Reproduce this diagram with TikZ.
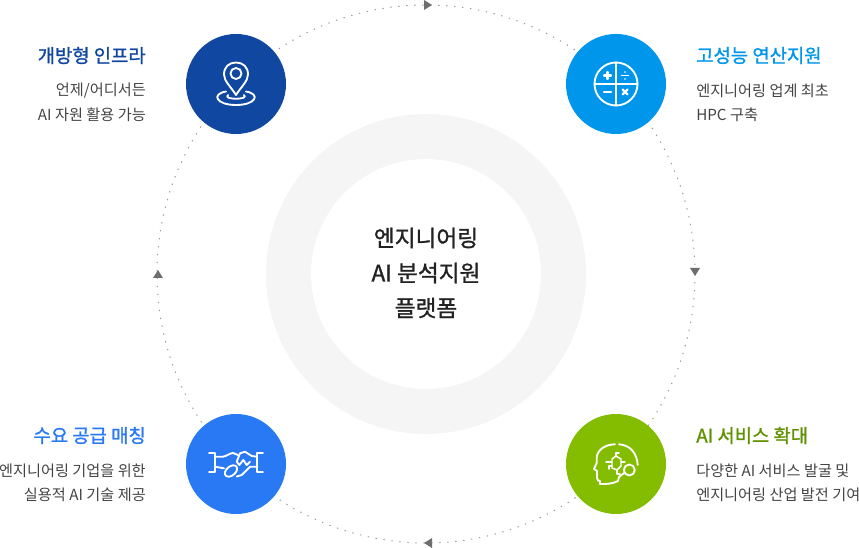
\documentclass[tikz,border=0pt]{standalone}
\usepackage{fontspec}
\setmainfont{Noto Sans CJK KR}
\newfontfamily\medkr[FakeBold=1.2]{Noto Sans CJK KR}
\begin{document}
\begin{tikzpicture}[x=0.75pt,y=-0.75pt,
  hub/.style={circle,minimum size=75pt,inner sep=0pt,draw=none},
  headl/.style={font=\fontsize{14.1pt}{16pt}\medkr,anchor=east,inner sep=0pt},
  headr/.style={font=\fontsize{14.1pt}{16pt}\medkr,anchor=west,inner sep=0pt},
  bodyl/.style={font=\fontsize{11.4pt}{13pt}\selectfont,text=bodygrey,anchor=east,inner sep=0pt},
  bodyr/.style={font=\fontsize{11.4pt}{13pt}\selectfont,text=bodygrey,anchor=west,inner sep=0pt},
  centre/.style={font=\fontsize{17pt}{20pt}\medkr,text=centregrey,inner sep=0pt},
  icon/.style={draw=white,line width=1.4pt,line cap=round,line join=round},
  tick/.style={fill=arrowgrey,draw=none}]
\definecolor{bodygrey}{HTML}{444444}
\definecolor{centregrey}{HTML}{222222}
\definecolor{arrowgrey}{HTML}{6E6E6E}
\definecolor{ringgrey}{HTML}{F5F5F5}
\definecolor{dotgrey}{HTML}{999999}
\definecolor{navy}{HTML}{0F47A1}
\definecolor{sky}{HTML}{0096EC}
\definecolor{azure}{HTML}{2979F5}
\definecolor{lime}{HTML}{84BD00}
\definecolor{olive}{HTML}{5F9100}
\useasboundingbox (0,0) rectangle (859,548);
\coordinate (c) at (426,274);
% dotted orbit
\draw[dotgrey,line width=0.75pt,dash pattern=on 1pt off 5pt] (c) circle [radius=269];
% grey ring
\fill[ringgrey,even odd rule] (c) circle [radius=160] (c) circle [radius=115];
% arrowheads
\fill[tick] (424,0) -- (432,5) -- (424,10) -- cycle;
\fill[tick] (690,268) -- (700,268) -- (695,276) -- cycle;
\fill[tick] (432,538) -- (424,543) -- (432,548) -- cycle;
\fill[tick] (153,278) -- (163,278) -- (158,270) -- cycle;
% hubs
\node[hub,fill=navy] (h1) at (236,84) {};
\node[hub,fill=sky] (h2) at (616,84) {};
\node[hub,fill=azure] (h3) at (236,464) {};
\node[hub,fill=lime] (h4) at (616,464) {};
% pin icon
\draw[icon] (236,95) .. controls (231,87) and (224,81) .. (224,74.5)
  .. controls (224,67) and (229,62.5) .. (236,62.5)
  .. controls (243,62.5) and (248,67) .. (248,74.5)
  .. controls (248,81) and (241,87) .. cycle;
\draw[icon] (236,73.5) circle [radius=5.5];
\draw[icon] (226,91.5) .. controls (211,94) and (216,105) .. (236,105) .. controls (256,105) and (261,94) .. (246,91.5);
\draw[icon] (228,95) .. controls (222,100) and (250,100) .. (244,95);
% calculator icon
\draw[icon] (616,84) circle [radius=21.5];
\draw[icon] (616,62.5) -- (616,105.5) (594.5,84) -- (637.5,84);
\draw[icon,line width=1.6pt] (604,75.5) -- (611,75.5) (607.5,72) -- (607.5,79);
\draw[icon,line width=1.3pt] (621.5,75.5) -- (628.5,75.5);
\fill[white] (625,72) circle [radius=0.9] (625,79) circle [radius=0.9];
\draw[icon,line width=1.6pt] (604,92) -- (611,92);
\draw[icon,line width=1.6pt] (622.5,89.5) -- (627.5,94.5) (627.5,89.5) -- (622.5,94.5);
% handshake icon
\draw[icon] (209,453.3) -- (215,453.3) -- (215,471.7) -- (209,471.7);
\draw[icon] (263,453.3) -- (257.3,453.3) -- (257.3,471.7) -- (263,471.7);
\draw[icon] (215,456.7) -- (223,456.7) .. controls (227,456) and (230,453) .. (233,453) -- (238,455);
\draw[icon] (257.3,456.7) -- (251.7,456) -- (245,451.7) -- (240,453.3) -- (236.7,461.7) -- (239.3,465) -- (243.3,460) -- (246.7,465) -- (250,461.7);
\draw[icon] (215,466.7) -- (224,468.3);
\draw[icon] (257.3,466.7) -- (250,466.7) -- (246.7,470) -- (241.7,475) -- (236.7,476.5);
\draw[icon,rotate around={40:(231,471)}] (231,471) ellipse [x radius=7,y radius=4.5];
% AI head icon
\draw[icon] (615,444.3) .. controls (605,444.5) and (597,450) .. (596.7,458) -- (596.7,463) -- (594,469) -- (597,471) -- (597,478) .. controls (597,481) and (599,481) .. (600,481) -- (600,484) .. controls (607,484) and (612,484) .. (618,481) -- (619,477) -- (624,473);
\draw[icon] (619,444.3) .. controls (630,445) and (637,453) .. (637.7,465);
\draw[icon] (629.3,470) circle [radius=5.5];
\draw[icon,line width=1.1pt] (612,459) -- (616,456) -- (621,459) -- (621,466) -- (617,470) -- (612,468) -- cycle;
\draw[icon,line width=1.1pt] (616,456) -- (616,453) -- (619,453) (612,462) -- (606,462) (612,466) -- (609,466) -- (609,469) (621,462) -- (625,462) (617,470) -- (617,474) -- (620,474);
% centre text
\node[centre] (t1) at (426,238) {엔지니어링};
\node[centre] (t2) at (426,273) {AI 분석지원};
\node[centre] (t3) at (426,308) {플랫폼};
% labels
\node[headl,text=navy] (a1) at (146,55.5) {개방형 인프라};
\node[bodyl] (a2) at (146,90.5) {언제/어디서든};
\node[bodyl] (a3) at (146,114.5) {AI 자원 활용 가능};
\node[headr,text=sky] (b1) at (696,55.5) {고성능 연산지원};
\node[bodyr] (b2) at (696,90.5) {엔지니어링 업계 최초};
\node[bodyr] (b3) at (696,114.5) {HPC 구축};
\node[headl,text=azure] (c1) at (146,435.5) {수요 공급 매칭};
\node[bodyl] (c2) at (146,470.5) {엔지니어링 기업을 위한};
\node[bodyl] (c3) at (146,494.5) {실용적 AI 기술 제공};
\node[headr,text=olive] (d1) at (696,435.5) {AI 서비스 확대};
\node[bodyr] (d2) at (696,470.5) {다양한 AI 서비스 발굴 및};
\node[bodyr] (d3) at (696,494.5) {엔지니어링 산업 발전 기여};
\end{tikzpicture}
\end{document}
